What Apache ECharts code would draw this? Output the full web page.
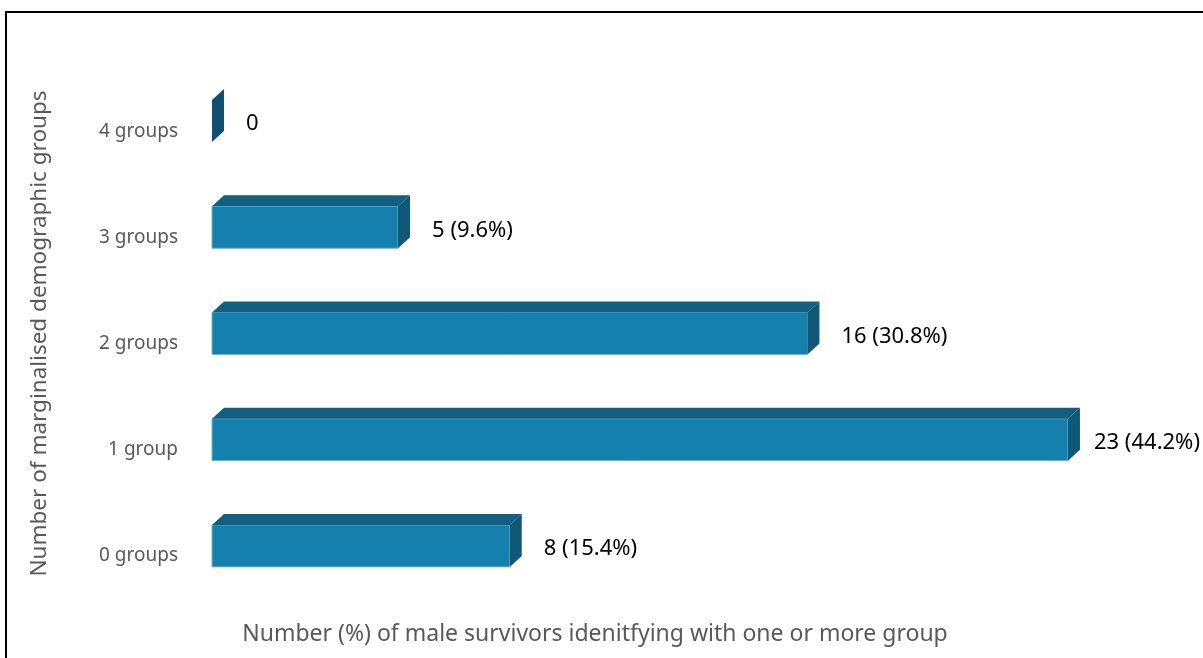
<!DOCTYPE html>
<html><head><meta charset="utf-8">
<script src="https://cdn.jsdelivr.net/npm/echarts@6/dist/echarts.min.js"></script>
<style>html,body{margin:0;padding:0;background:#fff}#c{width:1203px;height:658px}</style>
</head><body><div id="c"></div>
<script>
const categories = ['0 groups', '1 group', '2 groups', '3 groups', '4 groups'];
const counts = [8, 23, 16, 5, 0];
const percents = [15.4, 44.2, 30.8, 9.6, null];
const yTitle = 'Number of marginalised demographic groups';
const xTitle = 'Number (%) of male survivors idenitfying with one or more group';

const W = 1203;
const labelFont = '22px "Noto Sans"';
const cvs = document.createElement('canvas').getContext('2d');
function textW(t){ cvs.font = labelFont; return cvs.measureText(t).width; }

const chart = echarts.init(document.getElementById('c'), null, {renderer:'canvas'});
const DX = 12, DY = 11, H = 42;
chart.setOption({
  backgroundColor: '#fff',
  animation: false,
  grid: {left: 212, right: 60.6, top: 68, bottom: 59},
  xAxis: {type:'value', min:0, max:25, show:false},
  yAxis: {
    type:'category', data: categories,
    axisLine:{show:false}, axisTick:{show:false}, splitLine:{show:false},
    axisLabel:{color:'#595959', fontSize:19, fontFamily:'Noto Sans', margin:34, verticalAlign:'top', lineHeight:20},
    name: yTitle, nameLocation:'middle', nameRotate:90, nameGap:161,
    nameTextStyle:{color:'#595959', fontSize:22.5, fontFamily:'Noto Sans'}
  },
  graphic: [
    {type:'rect', shape:{x:6, y:12, width:1300, height:800}, style:{fill:'none', stroke:'#000', lineWidth:2}, z:100},
    {type:'text', x:595, y:634, style:{text:xTitle, fill:'#595959', font:'23px "Noto Sans"', textAlign:'center', textVerticalAlign:'middle'}}
  ],
  series: [{
    type:'custom',
    data: counts.map((v,i)=>[v, categories[i]]),
    encode:{x:0, y:1},
    renderItem: function(params, api){
      const i = params.dataIndex;
      const v = counts[i];
      const s = api.coord([0, i]);
      const e = api.coord([v, i]);
      const x0 = s[0], x1 = e[0], yc = s[1];
      const top = yc - H/2, bot = yc + H/2;
      const children = [];
      if (x1 > x0) {
        children.push({type:'rect', shape:{x:x0, y:top, width:x1-x0, height:H},
          style:{fill:'#1580ad', stroke:'#6fb8d6', lineWidth:1}});
        children.push({type:'polygon', shape:{points:[[x0,top],[x0+DX,top-DY],[x1+DX,top-DY],[x1,top]]},
          style:{fill:'#135f80'}});
      }
      children.push({type:'polygon', shape:{points:[[x1,top],[x1+DX,top-DY],[x1+DX,bot-DY],[x1,bot]]},
        style:{fill: v>0 ? '#0f5877' : '#0d5070'}});
      const txt = percents[i] == null ? String(v) : v + ' (' + percents[i].toFixed(1) + '%)';
      let lx = x1 + DX + 22;
      const tw = textW(txt);
      if (lx + tw > W - 3) lx = W - 3 - tw;
      children.push({type:'text', x:lx, y:yc + 3, style:{text:txt, fill:'#000', font:labelFont, textVerticalAlign:'middle'}});
      return {type:'group', children};
    }
  }]
});
</script></body></html>
